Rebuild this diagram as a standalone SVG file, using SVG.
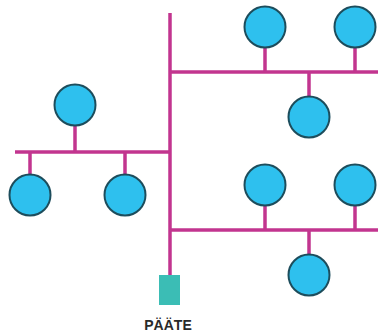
<svg xmlns="http://www.w3.org/2000/svg" width="378" height="336" viewBox="0 0 378 336">
  <style>
    .wire { stroke: #c2358f; stroke-width: 3.5; fill: none; stroke-linecap: butt; }
    .node { fill: #2ec0ee; stroke: #1d4d5c; stroke-width: 2; }
    .term { fill: #3bbdb5; }
    .label { font-family: "Liberation Sans", Arial, sans-serif; font-size: 14px; font-weight: bold; fill: #2a2a2a; }
  </style>
  <rect width="378" height="336" fill="#ffffff"/>
  <g id="connectors">
    <!-- trunk -->
    <line class="wire" x1="170" y1="13" x2="170" y2="276"/>
    <!-- buses -->
    <line class="wire" x1="170" y1="72" x2="378" y2="72"/>
    <line class="wire" x1="15" y1="152" x2="170" y2="152"/>
    <line class="wire" x1="170" y1="230" x2="378" y2="230"/>
    <!-- drops: left segment -->
    <line class="wire" x1="75" y1="126" x2="75" y2="152"/>
    <line class="wire" x1="30" y1="152" x2="30" y2="176"/>
    <line class="wire" x1="125" y1="152" x2="125" y2="176"/>
    <!-- drops: upper right segment -->
    <line class="wire" x1="265" y1="47" x2="265" y2="72"/>
    <line class="wire" x1="355" y1="47" x2="355" y2="72"/>
    <line class="wire" x1="309" y1="72" x2="309" y2="97"/>
    <!-- drops: lower right segment -->
    <line class="wire" x1="265" y1="205" x2="265" y2="230"/>
    <line class="wire" x1="355" y1="205" x2="355" y2="230"/>
    <line class="wire" x1="309" y1="230" x2="309" y2="255"/>
  </g>
  <g id="n-left-top"><circle class="node" cx="75" cy="105" r="20.5"/></g>
  <g id="n-left-a"><circle class="node" cx="30" cy="195" r="20.5"/></g>
  <g id="n-left-b"><circle class="node" cx="125" cy="195" r="20.5"/></g>
  <g id="n-ur-a"><circle class="node" cx="265" cy="27" r="20.5"/></g>
  <g id="n-ur-b"><circle class="node" cx="355" cy="27" r="20.5"/></g>
  <g id="n-ur-c"><circle class="node" cx="309" cy="117" r="20.5"/></g>
  <g id="n-lr-a"><circle class="node" cx="265" cy="185" r="20.5"/></g>
  <g id="n-lr-b"><circle class="node" cx="355" cy="185" r="20.5"/></g>
  <g id="n-lr-c"><circle class="node" cx="309" cy="275" r="20.5"/></g>
  <g id="terminal">
    <rect class="term" x="159" y="275" width="21" height="30"/>
    <text class="label" x="168" y="330" text-anchor="middle">PÄÄTE</text>
  </g>
</svg>
